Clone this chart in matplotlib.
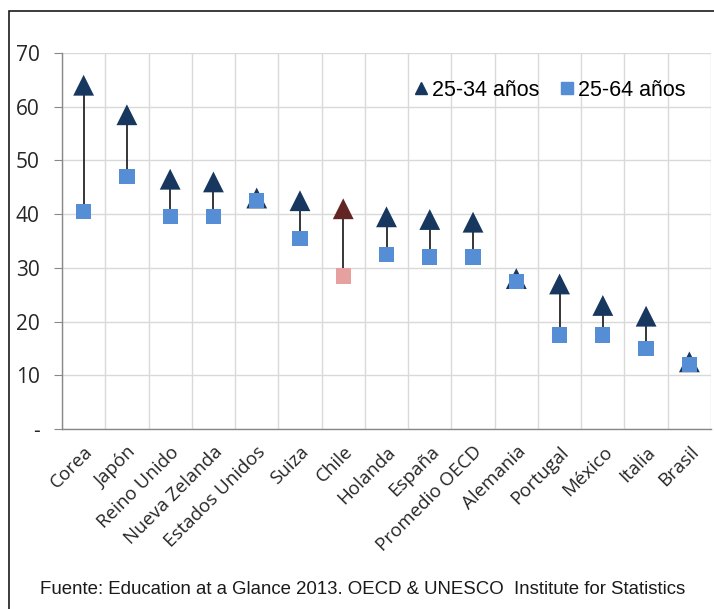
import matplotlib.pyplot as plt
import numpy as np
from matplotlib.patches import Rectangle
from matplotlib.lines import Line2D

# porcentaje de la poblacion con educacion terciaria
paises = ['Corea', 'Japón', 'Reino Unido', 'Nueva Zelanda', 'Estados Unidos',
          'Suiza', 'Chile', 'Holanda', 'España', 'Promedio OECD', 'Alemania',
          'Portugal', 'México', 'Italia', 'Brasil']
jovenes = [64, 58.5, 46.5, 46, 43, 42.5, 41, 39.5, 39, 38.5, 28, 27, 23, 21, 12.5]   # 25-34 años
adultos = [40.5, 47, 39.5, 39.5, 42.5, 35.5, 28.5, 32.5, 32, 32, 27.5, 17.5, 17.5, 15, 12]  # 25-64 años
y_ticks = [0, 10, 20, 30, 40, 50, 60, 70]
y_labels = ['-', '10', '20', '30', '40', '50', '60', '70']

azul_osc = '#17375E'
azul_cl = '#558ED5'
rojo_osc = '#632523'
rosa = '#E6A0A0'

W, H = 714, 609
fig = plt.figure(figsize=(W / 100, H / 100), dpi=100)
ax = fig.add_axes([62 / W, 1 - 429 / H, (711 - 62) / W, (429 - 53) / H])

x = np.arange(len(paises))
col_tri = [rojo_osc if p == 'Chile' else azul_osc for p in paises]
col_sq = [rosa if p == 'Chile' else azul_cl for p in paises]

ax.vlines(x, adultos, jovenes, color='#262626', lw=1.3, zorder=2)
ax.scatter(x, jovenes, marker='^', s=15 ** 2, c=col_tri, linewidths=0, zorder=3)
ax.scatter(x, adultos, marker='s', s=11 ** 2, c=col_sq, linewidths=0, zorder=4)

ax.set_xlim(-0.5, len(paises) - 0.5)
ax.set_ylim(0, 70)
ax.set_yticks(y_ticks)
ax.set_yticklabels(y_labels, fontsize=15, family='Open Sans', color='#262626')
ax.set_xticks(x)
ax.set_xticklabels(paises, rotation=45, ha='right', rotation_mode='anchor',
                   fontsize=13.5, family='Open Sans', color='#262626')
ax.set_xticks(np.arange(-0.5, len(paises)), minor=True)
ax.tick_params(axis='x', which='both', length=0, pad=10)
ax.tick_params(axis='y', length=6, color='#888888', pad=10)
ax.grid(True, axis='y', color='#D9D9D9', lw=1)
ax.grid(True, axis='x', which='minor', color='#D9D9D9', lw=1)
ax.grid(False, axis='x', which='major')
ax.set_axisbelow(True)
for s in ['top', 'right']:
    ax.spines[s].set_visible(False)
for s in ['left', 'bottom']:
    ax.spines[s].set_color('#888888')
    ax.spines[s].set_linewidth(1)

handles = [Line2D([], [], marker='^', color=azul_osc, ls='', markersize=9),
           Line2D([], [], marker='s', color=azul_cl, ls='', markersize=8)]
ax.legend(handles, ['25-34 años', '25-64 años'], ncol=2, frameon=False,
          loc='center', bbox_to_anchor=(550 / W, 1 - 90 / H),
          bbox_transform=fig.transFigure, handlelength=0.6, handletextpad=0.2,
          columnspacing=1.0, prop={'family': 'Liberation Sans', 'size': 15.5})

# marco exterior
fig.patches.append(Rectangle((9 / W, -0.1), 1.2, 1 - 11 / H + 0.1,
                             transform=fig.transFigure, fill=False,
                             edgecolor='#1a1a1a', lw=1.2))

fig.text(40 / W, 1 - 590 / H,
         'Fuente: Education at a Glance 2013. OECD & UNESCO  Institute for Statistics',
         family='Liberation Sans', fontsize=13.4, color='#1a1a1a', va='center')

fig.savefig('out.png', dpi=100)
